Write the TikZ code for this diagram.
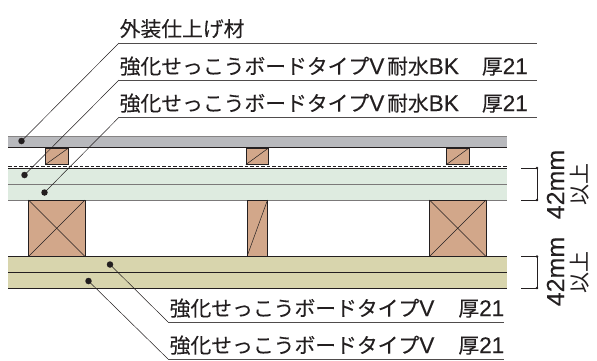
\documentclass[tikz,border=0pt]{standalone}
\usepackage{fontspec}
\setmainfont{Liberation Sans}
\newfontfamily\cjk[FakeBold=0.08]{Noto Sans CJK JP}
\newfontfamily\cjkreg{Noto Sans CJK JP}
\newfontfamily\latb{Liberation Sans}[FakeBold=0.25]
\newfontfamily\latm{Liberation Sans}[FakeBold=0.12]
\newcommand{\jp}[1]{{\cjk\fontsize{20.8}{22}\selectfont #1}}
\newcommand{\lt}[1]{{\latb\fontsize{22.6}{22}\selectfont #1}}
\definecolor{graylayer}{HTML}{B8B9BD}
\definecolor{greenlayer}{HTML}{DEEBE0}
\definecolor{olivelayer}{HTML}{D8D5AD}
\definecolor{wood}{HTML}{D2A78A}
\definecolor{ink}{HTML}{231F20}
\tikzset{
  x=1pt,y=-1pt,
  edge/.style={ink,line width=0.8pt},
  timber/.style={draw=ink,fill=wood,line width=0.8pt},
  diag/.style={ink,line width=0.5pt},
  leader/.style={ink,line width=0.5pt},
  under/.style={ink!80,line width=0.9pt},
  dot/.style={circle,fill=ink,inner sep=0pt,minimum size=6.5pt},
  tick/.style={ink,line width=0.5pt},
  tickend/.style={circle,fill=ink,inner sep=0pt,minimum size=2.6pt},
  lab/.style={anchor=base west,inner sep=0pt,text=ink},
  dimtext/.style={rotate=90,inner sep=0pt,font=\fontsize{25}{25}\selectfont\latm,text=ink},
  dimcjk/.style={rotate=90,inner sep=0pt,font=\fontsize{21}{21}\selectfont\cjkreg,text=ink}
}
\begin{document}
\begin{tikzpicture}
\useasboundingbox (0,0) rectangle (597,360);
% bands
\fill[graylayer] (8,136) rectangle (507,147.5);
\draw[edge,ink!55] (8,136) -- (507,136);
\draw[edge] (8,147.5) -- (507,147.5);
\fill[greenlayer] (8,168) rectangle (507,200);
\draw[edge] (8,168) -- (507,168);
\draw[edge,ink!60] (8,184) -- (507,184);
\draw[edge,ink!60] (8,200) -- (507,200);
\draw[ink,line width=0.7pt,dash pattern=on 3.5pt off 2pt] (8,166) -- (507,166);
\fill[olivelayer] (8,256.5) rectangle (507,288);
\draw[edge] (8,256.5) -- (507,256.5);
\draw[edge] (8,272.5) -- (507,272.5);
\draw[edge] (8,288) -- (507,288);
% battens
\foreach \xa/\xb in {45.5/68.5,246/268.5,446.5/469}{
  \draw[timber] (\xa,148) rectangle (\xb,164.5);
  \draw[diag] (\xa,164.5) -- (\xb,148);
}
% studs
\foreach \xa/\xb in {28.5/85,429.5/486}{
  \draw[timber] (\xa,200) rectangle (\xb,256.5);
  \draw[diag] (\xa,200) -- (\xb,256.5);
  \draw[diag] (\xa,256.5) -- (\xb,200);
}
\draw[timber] (247,200) rectangle (267.5,256.5);
\draw[diag] (247,256.5) -- (267.5,200);
% dots
\node[dot] (d1) at (21.5,141) {};
\node[dot] (d2) at (24.5,175) {};
\node[dot] (d3) at (44.5,192.5) {};
\node[dot] (d4) at (110,264.5) {};
\node[dot] (d5) at (88.5,281) {};
% leader ends
\coordinate (a1) at (119,43); \coordinate (b1) at (537,43);
\coordinate (a2) at (119,80); \coordinate (b2) at (537,80);
\coordinate (a3) at (119,117.3); \coordinate (b3) at (537,117.3);
\coordinate (a4) at (168,322); \coordinate (b4) at (504,322);
\coordinate (a5) at (168,359); \coordinate (b5) at (504,359);
\draw[leader] (d1.center) -- (a1);
\draw[leader] (d2.center) -- (a2);
\draw[leader] (d3.center) -- (a3);
\draw[leader] (d4.center) -- (a4);
\draw[leader] (d5.center) -- (a5);
\foreach \i in {1,...,5}{\draw[under] (a\i) -- (b\i);}
% labels
\node[lab] (l1) at (119.5,36.5) {\jp{外装仕上げ材}};
\node[lab] (l2) at (119.5,74) {\jp{強化せっこうボードタイプ}\lt{V} \jp{耐水}\lt{BK}\hspace{23pt}\jp{厚}\lt{21}};
\node[lab] (l3) at (119.5,111) {\jp{強化せっこうボードタイプ}\lt{V} \jp{耐水}\lt{BK}\hspace{23pt}\jp{厚}\lt{21}};
\node[lab] (l4) at (169.5,316) {\jp{強化せっこうボードタイプ}\lt{V}\hspace{24pt}\jp{厚}\lt{21}};
\node[lab] (l5) at (169.5,353) {\jp{強化せっこうボードタイプ}\lt{V}\hspace{24pt}\jp{厚}\lt{21}};
% dimensions
\coordinate (t1) at (521,168); \node[tickend] (e1) at (537,168) {};
\coordinate (t2) at (521,200); \node[tickend] (e2) at (537,200) {};
\coordinate (t3) at (521,256.5); \node[tickend] (e3) at (537,256.5) {};
\coordinate (t4) at (521,288); \node[tickend] (e4) at (537,288) {};
\draw[tick] (t1) -- (e1.center) -- (e2.center) -- (t2);
\draw[tick] (t3) -- (e3.center) -- (e4.center) -- (t4);
\node[dimtext] (m1) at (555.5,184.5) {42mm};
\node[dimcjk] (y1) at (580,184) {以上};
\node[dimtext] (m2) at (555.5,271.5) {42mm};
\node[dimcjk] (y2) at (580,272.5) {以上};
\end{tikzpicture}
\end{document}
